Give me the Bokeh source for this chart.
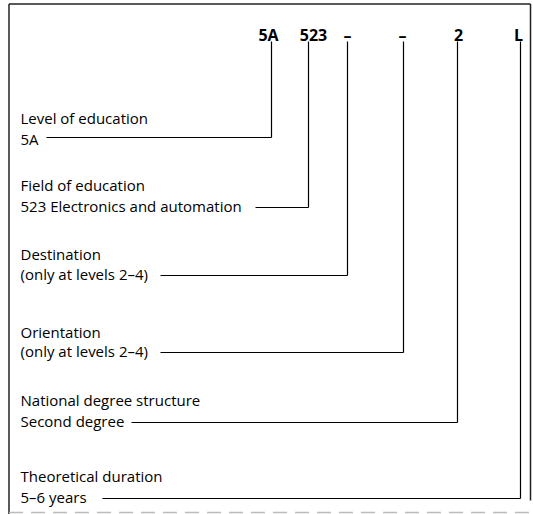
from bokeh.plotting import figure
from bokeh.models import Range1d, ColumnDataSource
from bokeh.embed import file_html
from bokeh.resources import INLINE
from bokeh.core.properties import value

# ---- content ----
codes = ["5A", "523", "\u2013", "\u2013", "2", "L"]
titles = ["Level of education", "Field of education", "Destination",
          "Orientation", "National degree structure", "Theoretical duration"]
details = ["5A", "523 Electronics and automation", "(only at levels 2\u20134)",
           "(only at levels 2\u20134)", "Second degree", "5\u20136 years"]

# ---- layout (reference pixel coordinates) ----
code_x = [268, 313, 347, 402, 458, 518]
stem_x = [271, 308, 347, 403, 457, 520]
title_y = [117, 184, 253, 331, 399, 475]
detail_y = [138, 205, 273, 350, 420, 496]
leader_y = [137, 207, 275, 352, 422, 498]
leader_x0 = [46, 255, 160, 160, 131, 102]
code_y = 34
stem_top = 41
text_x = 20

W, H = 533, 514
p = figure(width=W, height=H, output_backend="svg", toolbar_location=None,
           x_range=Range1d(0, W), y_range=Range1d(H, 0),
           x_axis_type=None, y_axis_type=None, min_border=0)
p.grid.visible = False
p.outline_line_color = None
p.background_fill_color = "white"
p.border_fill_color = "white"

FONT = value("Open Sans")

# frame
p.segment(x0=[8.5, 8.5, 530], y0=[3.5, 3.5, 3.5], x1=[8.5, 530, 530], y1=[514, 3.5, 500],
          line_color="#222222", line_width=1.5)
p.segment(x0=[8.5], y0=[512], x1=[530], y1=[512], line_color="#bbbbbb",
          line_width=1.5, line_dash="14 8")

# codes
p.text(x=code_x, y=[code_y] * len(codes), text=codes, text_font=FONT,
       text_font_size="16px", text_font_style="bold", text_align="center",
       text_baseline="alphabetic", text_color="black")

# stems and leaders
src = ColumnDataSource(dict(sx=stem_x, ly=leader_y, lx0=leader_x0,
                            top=[stem_top] * len(stem_x)))
p.segment(x0="sx", y0="top", x1="sx", y1="ly", source=src, line_color="black", line_width=1.2)
p.segment(x0="lx0", y0="ly", x1="sx", y1="ly", source=src, line_color="black", line_width=1.2)

# labels
p.text(x=[text_x] * len(titles), y=title_y, text=titles, text_font=FONT,
       text_font_size="15px", text_align="left", text_baseline="alphabetic",
       text_color="black")
p.text(x=[text_x] * len(details), y=detail_y, text=details, text_font=FONT,
       text_font_size="15px", text_align="left", text_baseline="alphabetic",
       text_color="black")

open("out.html", "w").write(file_html(p, INLINE))
